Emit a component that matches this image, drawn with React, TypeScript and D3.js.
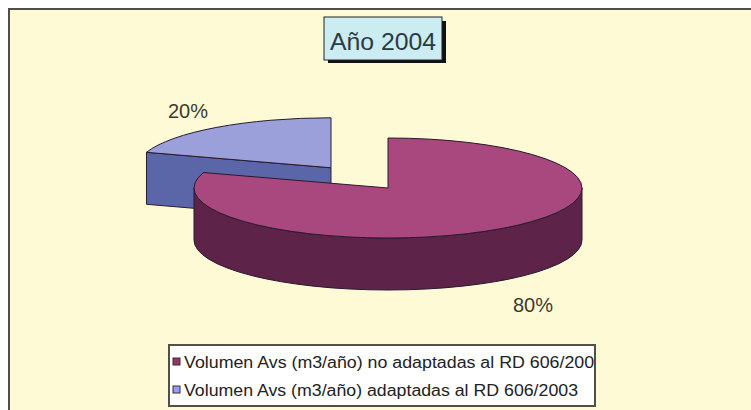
import React from "react";
import * as d3 from "d3";

const categories = [
  "Volumen Avs (m3/año) no adaptadas al RD 606/2003",
  "Volumen Avs (m3/año) adaptadas al RD 606/2003",
];
const values = [80, 20];
const pctLabels = ["80%", "20%"];
const title = "Año 2004";

const topColors = ["#A8487E", "#9B9FDA"];
const sideColors = ["#5E2348", "#5B66A8"];
const legendColors = ["#993366", "#9999FF"];

const W = 751;
const H = 410;

export default function App() {
  const cx = 388, cy = 188, rx = 194, ry = 50, depth = 52;
  const explode = [0, 0.5];
  const pie = d3.pie<number>().sort(null).value((d) => d);
  const arcs = pie(values);

  const proj = (ox: number, oy: number, a: number, dz = 0): [number, number] => [
    ox + rx * Math.sin(a),
    oy - ry * Math.cos(a) + dz,
  ];

  const slices = arcs.map((a, i) => {
    const mid = (a.startAngle + a.endAngle) / 2;
    const ox = cx + explode[i] * rx * Math.sin(mid);
    const oy = cy - explode[i] * ry * Math.cos(mid);
    const a0 = a.startAngle, a1 = a.endAngle;
    const large = a1 - a0 > Math.PI ? 1 : 0;
    const p0 = proj(ox, oy, a0);
    const p1 = proj(ox, oy, a1);
    const top = d3.path();
    top.moveTo(ox, oy);
    top.lineTo(p0[0], p0[1]);
    const topD = top.toString() + ` A ${rx} ${ry} 0 ${large} 1 ${p1[0]} ${p1[1]} Z`;

    // outer side (visible between PI/2 and 3PI/2)
    const s = Math.max(a0, Math.PI / 2);
    const e = Math.min(a1, (3 * Math.PI) / 2);
    let sideD = "";
    if (e > s) {
      const ps = proj(ox, oy, s), pe = proj(ox, oy, e);
      const psd = proj(ox, oy, s, depth), ped = proj(ox, oy, e, depth);
      const lg = e - s > Math.PI ? 1 : 0;
      sideD = `M ${ps[0]} ${ps[1]} A ${rx} ${ry} 0 ${lg} 1 ${pe[0]} ${pe[1]} L ${ped[0]} ${ped[1]} A ${rx} ${ry} 0 ${lg} 0 ${psd[0]} ${psd[1]} Z`;
    }
    // start radial face (visible when start edge on the left half)
    let radD = "";
    if (Math.sin(a0) < 0 && a0 > Math.PI) {
      const pd = proj(ox, oy, a0, depth);
      radD = `M ${ox} ${oy} L ${p0[0]} ${p0[1]} L ${pd[0]} ${pd[1]} L ${ox} ${oy + depth} Z`;
    }
    return { i, topD, sideD, radD };
  });

  const drawOrder = [1, 0];

  return (
    <svg width={W} height={H} style={{ position: "absolute", left: 0, top: 0 }}>
      <rect x={0} y={0} width={W} height={H} fill="#ffffff" />
      <rect x={9} y={9} width={W + 20} height={H + 20} fill="#FFFAD6" stroke="#505048" strokeWidth={2} />

      {/* title */}
      <rect x={328} y={21} width={118} height={42} fill="#111" />
      <rect x={324} y={17} width={118} height={43} fill="#CBECF1" stroke="#222" strokeWidth={1} />
      <text x={383} y={50} textAnchor="middle" fontFamily="Liberation Sans, Arial, sans-serif" fontSize={23} fill="#2b3a40" textLength={106} lengthAdjust="spacingAndGlyphs">
        {title}
      </text>

      {/* pie */}
      {drawOrder.map((i) => {
        const sl = slices[i];
        return (
          <g key={i} stroke="#2a1a2e" strokeWidth={1} strokeLinejoin="round">
            {sl.radD && <path d={sl.radD} fill={sideColors[i]} />}
            {sl.sideD && <path d={sl.sideD} fill={sideColors[i]} />}
            <path d={sl.topD} fill={topColors[i]} />
          </g>
        );
      })}

      {/* percentage labels */}
      <text x={188} y={118} textAnchor="middle" fontFamily="Liberation Sans, Arial, sans-serif" fontSize={20} fill="#3a3a30">
        {pctLabels[1]}
      </text>
      <text x={533} y={312} textAnchor="middle" fontFamily="Liberation Sans, Arial, sans-serif" fontSize={20} fill="#3a3a30">
        {pctLabels[0]}
      </text>

      {/* legend */}
      <defs>
        <clipPath id="legclip">
          <rect x={169} y={345} width={426} height={61} />
        </clipPath>
      </defs>
      <rect x={169} y={345} width={426} height={61} fill="#ffffff" stroke="#505048" strokeWidth={2} />
      <g clipPath="url(#legclip)">
        {categories.map((c, i) => (
          <g key={i}>
            <rect x={173} y={358 + i * 28} width={7} height={7} fill={legendColors[i]} stroke="#333" strokeWidth={1} />
            <text x={184} y={368 + i * 28} fontFamily="Liberation Sans, Arial, sans-serif" fontSize={16} fill="#222" textLength={i === 0 ? 420 : 394} lengthAdjust="spacingAndGlyphs">
              {c}
            </text>
          </g>
        ))}
      </g>
    </svg>
  );
}
